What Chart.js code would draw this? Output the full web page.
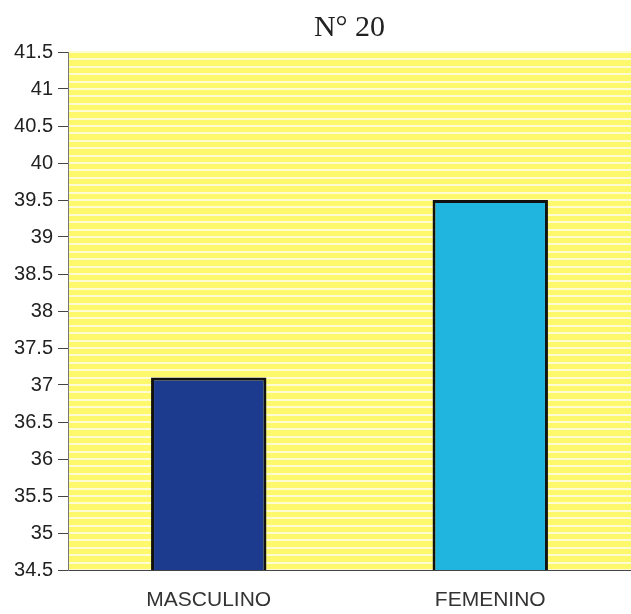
<!DOCTYPE html>
<html>
<head>
<meta charset="utf-8">
<script src="https://cdn.jsdelivr.net/npm/chart.js@4.4.0/dist/chart.umd.min.js"></script>
<style>
  html, body { margin: 0; padding: 0; background: #fff; overflow: hidden; }
  #wrap { width: 631px; height: 614px; }
</style>
</head>
<body>
<div id="wrap"><canvas id="chart" width="631" height="614"></canvas></div>
<script>
const categories = ["MASCULINO", "FEMENINO"];
const values = [37.1, 39.5];
const barColors = ["#1d3b8e", "#1fb5de"];
const yMin = 34.5;
const yMax = 41.5;

// yellow plot background
const plotBackground = {
  id: "plotBackground",
  beforeDraw(chart) {
    const { ctx, chartArea } = chart;
    ctx.save();
    ctx.fillStyle = "#fdf86c";
    ctx.fillRect(chartArea.left, chartArea.top, chartArea.right - chartArea.left, chartArea.bottom - chartArea.top);
    ctx.restore();
  },
};

const ctx = document.getElementById("chart").getContext("2d");
new Chart(ctx, {
  type: "bar",
  data: {
    labels: categories,
    datasets: [
      {
        data: values,
        backgroundColor: barColors,
        borderColor: "#111",
        borderWidth: 3,
        borderSkipped: false,
        categoryPercentage: 0.82,
        barPercentage: 0.5,
      },
    ],
  },
  options: {
    responsive: false,
    animation: false,
    layout: { padding: 0 },
    scales: {
      x: {
        grid: { display: false, drawTicks: false },
        border: { color: "#444", width: 1 },
        ticks: {
          color: "#333",
          padding: 18,
          font: { family: "'Liberation Sans', Arial, sans-serif", size: 21 },
        },
        afterFit(scale) { scale.height = 44; },
      },
      y: {
        min: yMin,
        max: yMax,
        ticks: {
          stepSize: 0.5,
          color: "#222",
          padding: 5,
          font: { family: "'Liberation Sans', Arial, sans-serif", size: 20 },
          callback: (v) => String(Math.round(v * 10) / 10),
        },
        grid: { drawOnChartArea: false, drawTicks: true, tickLength: 10, color: "#444" },
        border: { color: "#777", width: 1 },
        afterFit(scale) { scale.width = 68; },
      },
      // pale stripes every 0.1; plot runs past the right edge like the original
      stripes: {
        position: "right",
        display: true,
        min: yMin,
        max: yMax,
        ticks: { display: false, stepSize: 0.1 },
        grid: { color: "#fffbd2", lineWidth: 2, drawTicks: false },
        border: { display: false },
        afterFit(scale) { scale.width = -8; },
      },
    },
    plugins: {
      legend: { display: false },
      tooltip: { enabled: false },
      title: {
        display: true,
        text: "N° 20",
        fullSize: false,
        color: "#222",
        font: { family: "'Liberation Serif', 'Times New Roman', serif", size: 30, weight: "normal" },
        padding: { top: 10, bottom: 6 },
      },
    },
  },
  plugins: [plotBackground],
});
</script>
</body>
</html>
